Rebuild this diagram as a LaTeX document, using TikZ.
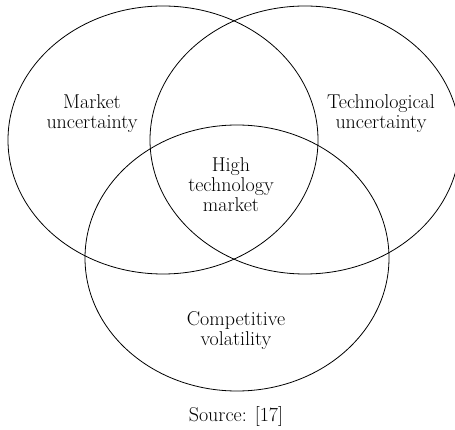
\documentclass[tikz,border=0pt]{standalone}
\usepackage{tikz}
\usetikzlibrary{shapes.geometric}

\begin{document}
\begin{tikzpicture}[
    x=1pt, y=-1pt,
    set/.style={draw, ellipse, line width=0.8pt, inner sep=0pt, minimum width=310pt, minimum height=268pt},
    every node/.style={font=\fontsize{20}{20}\selectfont, align=center}
]
\useasboundingbox (0,0) rectangle (455,430);
% the three sets
\node[set] (market) at (163,140) {};
\node[set] (tech) at (305,140) {};
\node[set, minimum width=304pt, minimum height=266pt] (comp) at (237,258) {};
% labels
\node (marketlbl) at (92,114) {Market\\uncertainty};
\node (techlbl) at (381,114) {Technological\\uncertainty};
\node (hightech) at (231,185) {High\\technology\\market};
\node (complbl) at (236,331) {Competitive\\volatility};
\node (source) at (236,416) {Source: [17]};
\end{tikzpicture}
\end{document}
